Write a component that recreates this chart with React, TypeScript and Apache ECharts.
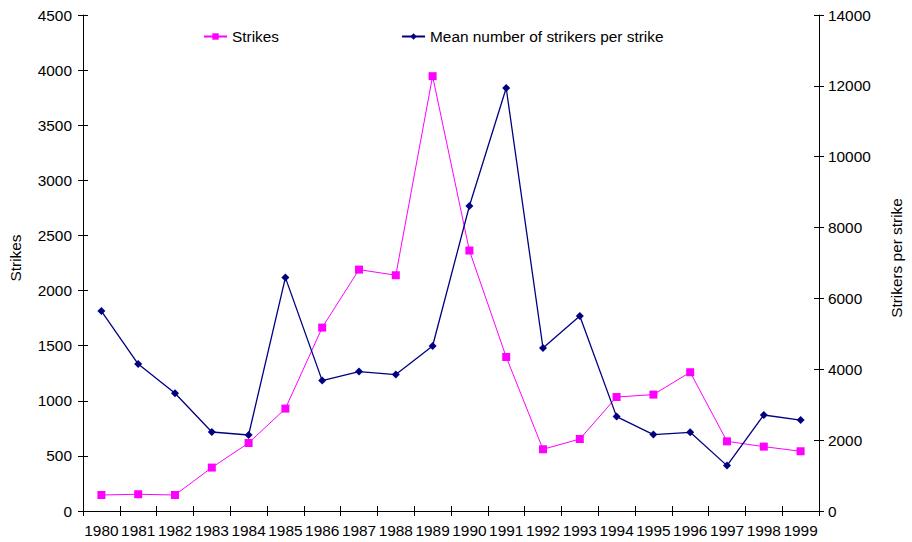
import React, { useEffect, useRef } from "react";
import * as echarts from "echarts";

const years = ["1980","1981","1982","1983","1984","1985","1986","1987","1988","1989","1990","1991","1992","1993","1994","1995","1996","1997","1998","1999"];
const strikes = [145, 152, 145, 394, 617, 929, 1664, 2190, 2139, 3945, 2363, 1397, 560, 653, 1034, 1056, 1259, 632, 584, 542];
const meanStrikers = [5645, 4149, 3322, 2230, 2145, 6588, 3680, 3934, 3850, 4657, 8608, 11939, 4601, 5504, 2664, 2156, 2221, 1281, 2710, 2568];

export default function App() {
  const ref = useRef<HTMLDivElement>(null);
  useEffect(() => {
    if (!ref.current) return;
    const chart = echarts.init(ref.current, null, { renderer: "svg" });
    const font = "Liberation Sans, Arial, sans-serif";
    const fs = 15.4;
    const plain = (v: number) => String(v);
    const line = { show: true, lineStyle: { color: "#000", width: 1 } };
    const tickOut = { show: true, length: 5, lineStyle: { color: "#000" } };
    const tickIn = { show: true, inside: true, length: 5, lineStyle: { color: "#000" } };
    const lbl = { color: "#000", fontSize: fs, fontFamily: font };
    chart.setOption({
      animation: false,
      backgroundColor: "#fff",
      textStyle: { fontFamily: font },
      grid: { left: 78, right: 79, top: 15, bottom: 31, containLabel: false },
      legend: {
        left: 198,
        top: 24,
        itemWidth: 23,
        itemHeight: 8,
        itemGap: 122,
        textStyle: { color: "#000", fontSize: fs, fontFamily: font },
        data: ["Strikes", "Mean number of strikers per strike"],
      },
      xAxis: [
        {
          type: "category",
          data: years,
          boundaryGap: true,
          axisLine: line,
          axisTick: tickOut,
          splitLine: { show: false },
          axisLabel: { ...lbl, margin: 12, interval: 0 },
        },
        {
          type: "category",
          data: years,
          position: "bottom",
          boundaryGap: true,
          axisLine: { show: false },
          axisTick: tickIn,
          splitLine: { show: false },
          axisLabel: { show: false },
        },
      ],
      yAxis: [
        {
          type: "value",
          min: 0,
          max: 4500,
          interval: 500,
          name: "Strikes",
          nameLocation: "middle",
          nameGap: 60,
          nameTextStyle: { ...lbl, padding: [0, 0, 0, 10] },
          axisLine: line,
          axisTick: tickOut,
          splitLine: { show: false },
          axisLabel: { ...lbl, margin: 11, formatter: plain },
        },
        {
          type: "value",
          min: 0,
          max: 14000,
          interval: 2000,
          name: "Strikers per strike",
          nameLocation: "middle",
          nameGap: 70,
          nameRotate: 90,
          nameTextStyle: { ...lbl, padding: [0, 0, 0, 10] },
          position: "right",
          axisLine: line,
          axisTick: tickOut,
          splitLine: { show: false },
          axisLabel: { ...lbl, margin: 9, formatter: plain },
        },
        {
          type: "value",
          min: 0,
          max: 4500,
          interval: 500,
          position: "left",
          axisLine: { show: false },
          axisTick: tickIn,
          splitLine: { show: false },
          axisLabel: { show: false },
        },
        {
          type: "value",
          min: 0,
          max: 14000,
          interval: 2000,
          position: "right",
          axisLine: { show: false },
          axisTick: tickIn,
          splitLine: { show: false },
          axisLabel: { show: false },
        },
      ],
      series: [
        {
          name: "Strikes",
          type: "line",
          yAxisIndex: 0,
          data: strikes,
          symbol: "rect",
          symbolSize: 8,
          color: "#FF00FF",
          lineStyle: { color: "#FF00FF", width: 1 },
          itemStyle: { color: "#FF00FF" },
        },
        {
          name: "Mean number of strikers per strike",
          type: "line",
          yAxisIndex: 1,
          data: meanStrikers,
          symbol: "diamond",
          symbolSize: 8,
          color: "#000080",
          lineStyle: { color: "#000080", width: 1.3 },
          itemStyle: { color: "#000080" },
        },
      ],
    });
    return () => chart.dispose();
  }, []);
  return <div ref={ref} style={{ width: 912, height: 542, position: "absolute", left: 0, top: 0 }} />;
}
